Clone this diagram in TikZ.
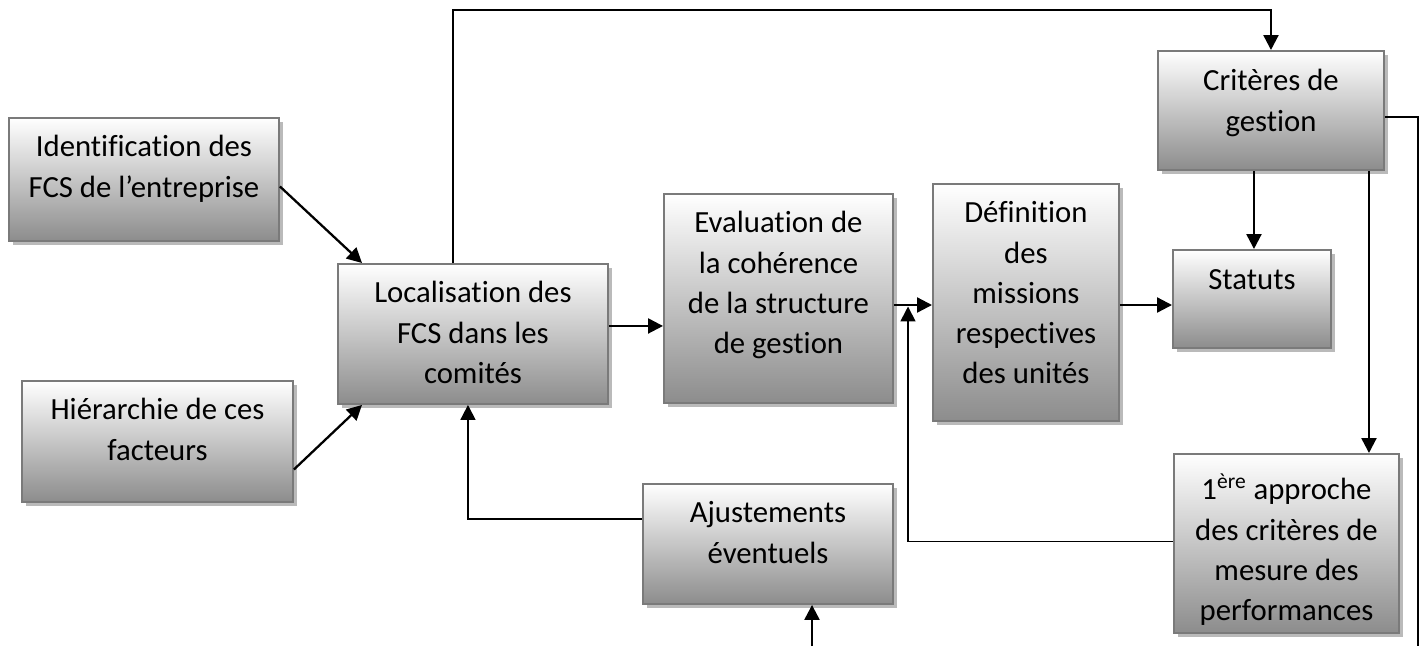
\documentclass[tikz,border=0pt]{standalone}
\usepackage{fontspec}
\setmainfont{Carlito}[Ligatures={NoCommon,TeX}]
\usetikzlibrary{arrows.meta,shadows,calc}
\newlength\mypx
\setlength\mypx{0.02cm}
% box content: width, height, first-baseline offset (px), text
\newcommand\bxt[4]{\parbox[c][#2\mypx][t]{#1\mypx}{\centering\rule{0pt}{#3\mypx}#4}}
\begin{document}
\begin{tikzpicture}[x=0.02cm,y=-0.02cm,
  box/.style={draw=black!52,line width=1.1pt,top color=white,bottom color=black!45,
    drop shadow={shadow xshift=0.08cm,shadow yshift=-0.08cm,fill=black!27,opacity=1},
    anchor=north west,inner sep=0pt,font=\fontsize{17.5}{22.8}\selectfont},
  arr/.style={line width=1.3pt,-{Triangle[length=8.5pt,width=8.5pt]}},
  thinarr/.style={line width=1pt,-{Triangle[length=8.5pt,width=8.5pt]}},
  ln/.style={line width=1.3pt}]
\useasboundingbox (0,0) rectangle (1426,646);
\node[box] (ident) at (8,117)   {\bxt{270}{123}{39}{Identification des\\FCS de l’entreprise}};
\node[box] (hier)  at (21,380)  {\bxt{271}{121}{39}{Hiérarchie de ces\\facteurs}};
\node[box] (loc)   at (337,263) {\bxt{270}{140}{39}{Localisation des\\FCS dans les\\comités}};
\node[box] (eval)  at (663,193) {\bxt{229}{209}{39}{Evaluation de\\la cohérence\\de la structure\\de gestion}};
\node[box] (def)   at (932,183) {\bxt{186}{237}{39}{Définition\\des\\missions\\respectives\\des unités}};
\node[box] (stat)  at (1172,249){\bxt{158}{98}{40}{Statuts}};
\node[box] (crit)  at (1157,50) {\bxt{226}{119}{40}{Critères de\\gestion}};
\node[box] (appr)  at (1173,453){\bxt{225}{179}{46}{1\textsuperscript{ère} approche\\des critères de\\mesure des\\performances}};
\node[box] (ajust) at (642,483) {\bxt{250}{120}{39}{Ajustements\\éventuels}};

\coordinate (top) at (453,10);
\coordinate (rgt) at (1418,117);
\coordinate (rbot) at (1418,646);
\coordinate (bot) at (812,646);
\coordinate (midy) at (0,305);
\coordinate (vx) at (908,306.5);

\draw[arr] ($(ident.east)+(0,7)$) -- ($(loc.north west)+(25,0)$);
\draw[arr] ($(hier.east)+(0,28)$) -- ($(loc.south west)+(25,0)$);
\draw[arr] (loc.north -| top) -- (top) -| (crit.north);
\draw[arr] ($(loc.east)+(0,-8)$) -- (eval.west |- {$(loc.east)+(0,-8)$});
\draw[arr] (eval.east |- midy) -- (def.west |- midy);
\draw[arr] (def.east |- midy) -- (stat.west |- midy);
\draw[arr] ($(crit.south)+(-17,0)$) -- (stat.north -| {$(crit.south)+(-17,0)$});
\draw[arr] ($(crit.south)+(98,0)$) -- (appr.north -| {$(crit.south)+(98,0)$});
\draw[ln] (crit.east |- rgt) -- (rgt) -- (rbot);
\draw[arr] (bot) -- (ajust.south -| bot);
\draw[thinarr] ($(ajust.west)+(0,-25)$) -| ($(loc.south)+(-5,0)$);
\draw[thinarr] ($(appr.west)+(0,-2)$) -| (vx);
\end{tikzpicture}
\end{document}
